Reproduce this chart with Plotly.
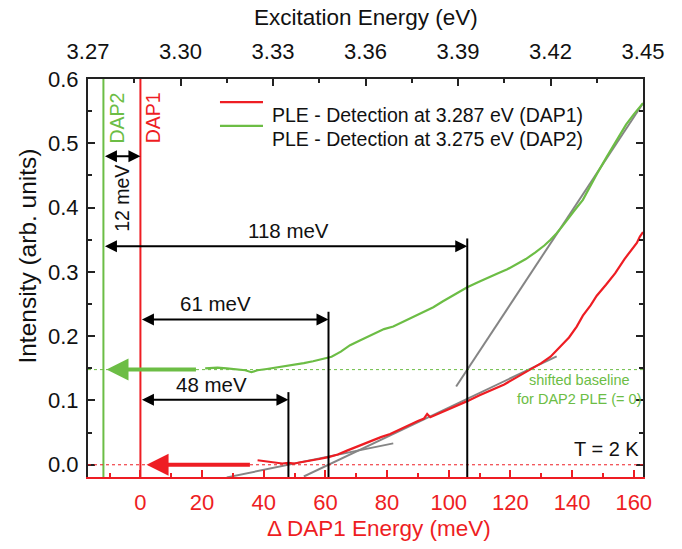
import plotly.graph_objects as go

# PLE spectra, x = energy above DAP1 detection (meV)
dap1_delta = [38, 40, 42, 44, 46, 48, 50, 52, 55, 58, 61, 64, 67, 70, 72, 75, 78, 81, 84, 87,
              90, 92, 93, 94, 97, 100, 103, 106, 110, 114, 118, 122, 126, 130, 133, 136, 139,
              141.5, 143.5, 146, 148, 151, 154, 157, 159, 161, 162, 163]
dap1_int = [0.007, 0.006, 0.004, 0.003, 0.002, 0.003, 0.002, 0.004, 0.006, 0.009, 0.012, 0.016,
            0.022, 0.028, 0.032, 0.037, 0.043, 0.048, 0.055, 0.062, 0.068, 0.072, 0.079, 0.074,
            0.080, 0.087, 0.093, 0.099, 0.108, 0.116, 0.125, 0.136, 0.147, 0.158, 0.168, 0.183,
            0.198, 0.215, 0.232, 0.248, 0.263, 0.280, 0.298, 0.320, 0.333, 0.345, 0.355, 0.362]

dap2_delta = [21, 25, 28, 31, 34, 36, 38, 41, 44, 47, 50, 53, 56, 59, 62, 65, 68, 71, 74, 77,
              79, 82, 86, 89, 92, 95, 98, 101, 104, 106, 110, 113, 116, 119, 122, 125, 128, 131,
              133, 135, 137, 139, 141, 143.5, 145.5, 148, 151, 154, 157.5, 160, 163]
dap2_int = [0.150, 0.151, 0.150, 0.149, 0.147, 0.144, 0.147, 0.149, 0.151, 0.153, 0.156, 0.158,
            0.161, 0.164, 0.168, 0.176, 0.186, 0.193, 0.200, 0.207, 0.211, 0.215, 0.224, 0.232,
            0.238, 0.245, 0.254, 0.262, 0.270, 0.276, 0.285, 0.292, 0.298, 0.304, 0.312, 0.320,
            0.330, 0.341, 0.350, 0.360, 0.372, 0.385, 0.397, 0.412, 0.430, 0.452, 0.477, 0.500,
            0.529, 0.545, 0.5625]

series_names = ["PLE - Detection at 3.287 eV (DAP1)", "PLE - Detection at 3.275 eV (DAP2)"]

DAP1_EV = 3.287          # detection energy DAP1 (eV)
DAP2_SHIFT = -12         # DAP2 relative to DAP1 (meV)
DAP2_BASELINE = 0.148    # shifted zero for the DAP2 spectrum

# linear onset fits: onset (meV), baseline, slope, x-range
fit_onset = [48, 61, 106]
fit_base = [0.0, 0.0, DAP2_BASELINE]
fit_slope = [0.00098, 0.00228, 0.00727]
fit_xmin = [28, 53, 102.4]
fit_xmax = [82, 135, 163]

# onset arrows: label, start, end, height
gap_labels = ["48 meV", "61 meV", "118 meV"]
gap_start = [0, 0, DAP2_SHIFT]
gap_end = [48, 61, 106]
gap_y = [0.101, 0.226, 0.340]
gap_label_x = [23, 24.5, 48]

RED = "#ee1d23"
GREEN = "#6cbd45"
GRAY = "#858585"
INK = "#111111"
FONT = "Liberation Sans, Arial, sans-serif"

X_RANGE = [-17, 163]
Y_RANGE = [-0.019, 0.6]

fig = go.Figure()

# fit lines
for on, b, s, x0, x1 in zip(fit_onset, fit_base, fit_slope, fit_xmin, fit_xmax):
    fig.add_trace(go.Scatter(x=[x0, x1], y=[b + s * (x0 - on), b + s * (x1 - on)],
                             mode="lines", line=dict(color=GRAY, width=2),
                             showlegend=False, hoverinfo="skip"))

fig.add_trace(go.Scatter(x=dap1_delta, y=dap1_int, mode="lines",
                         line=dict(color=RED, width=2.2), name=series_names[0],
                         showlegend=False))
fig.add_trace(go.Scatter(x=dap2_delta, y=dap2_int, mode="lines",
                         line=dict(color=GREEN, width=2.2), name=series_names[1],
                         showlegend=False))

# placeholder on the top energy axis so it is drawn
fig.add_trace(go.Scatter(x=[3.3], y=[0.3], xaxis="x2", mode="markers",
                         marker=dict(opacity=0), showlegend=False, hoverinfo="skip"))

shapes = []
# DAP1 / DAP2 positions
shapes.append(dict(type="line", xref="x", yref="paper", x0=0, x1=0, y0=0, y1=1,
                   line=dict(color=RED, width=2)))
shapes.append(dict(type="line", xref="x", yref="paper", x0=DAP2_SHIFT, x1=DAP2_SHIFT, y0=0, y1=1,
                   line=dict(color=GREEN, width=2)))
# baselines
shapes.append(dict(type="line", xref="paper", yref="y", x0=0, x1=1, y0=0, y1=0,
                   line=dict(color=RED, width=1, dash="dot")))
shapes.append(dict(type="line", xref="paper", yref="y", x0=0, x1=1, y0=DAP2_BASELINE,
                   y1=DAP2_BASELINE, line=dict(color=GREEN, width=1, dash="dot")))
# onset markers
for xe, yv in zip(gap_end, gap_y):
    shapes.append(dict(type="line", xref="x", yref="y", x0=xe, x1=xe, y0=Y_RANGE[0],
                       y1=yv + 0.012, line=dict(color="black", width=2)))

ann = []
# legend
for i, (name, col) in enumerate(zip(series_names, [RED, GREEN])):
    ly = 0.942 - i * 0.06
    shapes.append(dict(type="line", xref="paper", yref="paper", x0=0.2378, x1=0.3153,
                       y0=ly, y1=ly, line=dict(color=col, width=2.2)))
    ann.append(dict(x=0.328, y=ly, xref="paper", yref="paper", xanchor="left",
                    text=name, showarrow=False, font=dict(size=19.5, color=INK)))

for lab, xs, xe, yv, lx in zip(gap_labels, gap_start, gap_end, gap_y, gap_label_x):
    ann.append(dict(x=xe, y=yv, ax=xs, ay=yv, xref="x", yref="y", axref="x", ayref="y",
                    text="", showarrow=True, arrowhead=2, startarrowhead=2,
                    arrowside="end+start", arrowwidth=2, arrowsize=1.2, arrowcolor="black",
                    standoff=0, startstandoff=0))
    ann.append(dict(x=lx, y=yv, xref="x", yref="y", text=lab, showarrow=False,
                    yanchor="bottom", yshift=2, font=dict(size=20.5, color=INK)))

# 12 meV between DAP2 and DAP1
ann.append(dict(x=0, y=0.48, ax=DAP2_SHIFT, ay=0.48, xref="x", yref="y", axref="x", ayref="y",
                text="", showarrow=True, arrowhead=2, startarrowhead=2, arrowside="end+start",
                arrowwidth=2, arrowsize=1.2, arrowcolor="black", standoff=0, startstandoff=0))
ann.append(dict(x=DAP2_SHIFT / 2, y=0.415, xref="x", yref="y", text="12 meV", textangle=-90,
                showarrow=False, font=dict(size=19.5, color=INK)))

# baseline arrows
ann.append(dict(x=2, y=0, ax=36, ay=0, xref="x", yref="y", axref="x", ayref="y", text="",
                showarrow=True, arrowhead=2, arrowwidth=4, arrowsize=1.1, arrowcolor=RED,
                standoff=0))
ann.append(dict(x=-11, y=DAP2_BASELINE, ax=18.5, ay=DAP2_BASELINE, xref="x", yref="y",
                axref="x", ayref="y", text="", showarrow=True, arrowhead=2, arrowwidth=4,
                arrowsize=1.1, arrowcolor=GREEN, standoff=0))

# line labels
ann.append(dict(x=-7.6, y=0.54, xref="x", yref="y", text="DAP2", textangle=-90,
                showarrow=False, font=dict(size=19.5, color=GREEN)))
ann.append(dict(x=4, y=0.54, xref="x", yref="y", text="DAP1", textangle=-90,
                showarrow=False, font=dict(size=19.5, color=RED)))
ann.append(dict(x=142.5, y=0.117, xref="x", yref="y",
                text="shifted baseline<br>for DAP2 PLE (= 0)", showarrow=False,
                align="center", font=dict(size=14.5, color=GREEN)))
ann.append(dict(x=151, y=0.025, xref="x", yref="y", text="T = 2 K", showarrow=False,
                font=dict(size=20, color=INK)))

# axis titles
ann.append(dict(x=0.5, y=1, xref="paper", yref="paper", yanchor="bottom", yshift=47,
                text="Excitation Energy (eV)", showarrow=False,
                font=dict(size=22.5, color=INK)))
ann.append(dict(x=0.524, y=0, xref="paper", yref="paper", yanchor="top", yshift=-37,
                text="Δ DAP1 Energy (meV)", showarrow=False, font=dict(size=22.5, color=RED)))
ann.append(dict(x=0, y=0.555, xref="paper", yref="paper", xanchor="right", xshift=-45,
                text="Intensity (arb. units)", textangle=-90, showarrow=False,
                font=dict(size=24.5, color=INK)))

fig.update_layout(
    width=682, height=549,
    margin=dict(l=88, r=39, t=79, b=72),
    paper_bgcolor="white", plot_bgcolor="white",
    font=dict(family=FONT, size=22, color=INK),
    shapes=shapes, annotations=ann,
    showlegend=False,
    xaxis=dict(range=X_RANGE, dtick=20, tick0=0, showgrid=False, zeroline=False,
               showline=True, linecolor=RED, linewidth=2,
               ticks="inside", ticklen=7, tickwidth=1.5, tickcolor=RED,
               tickfont=dict(size=22, color=RED), ticklabelstandoff=5,
               minor=dict(dtick=10, ticks="inside", ticklen=4, tickcolor=RED, tickwidth=1.5)),
    xaxis2=dict(range=[DAP1_EV + X_RANGE[0] / 1000, DAP1_EV + X_RANGE[1] / 1000],
                overlaying="x", side="top", dtick=0.03, tick0=3.27, tickformat=".2f",
                showgrid=False, zeroline=False, showline=True, linecolor="#222", linewidth=2,
                ticks="inside", ticklen=7, tickwidth=1.5, tickcolor="#222",
                tickfont=dict(size=22, color=INK), ticklabelstandoff=9,
                minor=dict(dtick=0.015, ticks="inside", ticklen=4, tickcolor="#222",
                           tickwidth=1.5)),
    yaxis=dict(range=Y_RANGE, dtick=0.1, tick0=0, tickformat=".1f", showgrid=False,
               zeroline=False, showline=True, linecolor="#222", linewidth=2, mirror="ticks",
               ticks="inside", ticklen=7, tickwidth=1.5, tickcolor="#222",
               tickfont=dict(size=22, color=INK), ticklabelstandoff=3,
               minor=dict(dtick=0.05, ticks="inside", ticklen=4, tickcolor="#222",
                          tickwidth=1.5)),
)

fig.write_html("out.html")
